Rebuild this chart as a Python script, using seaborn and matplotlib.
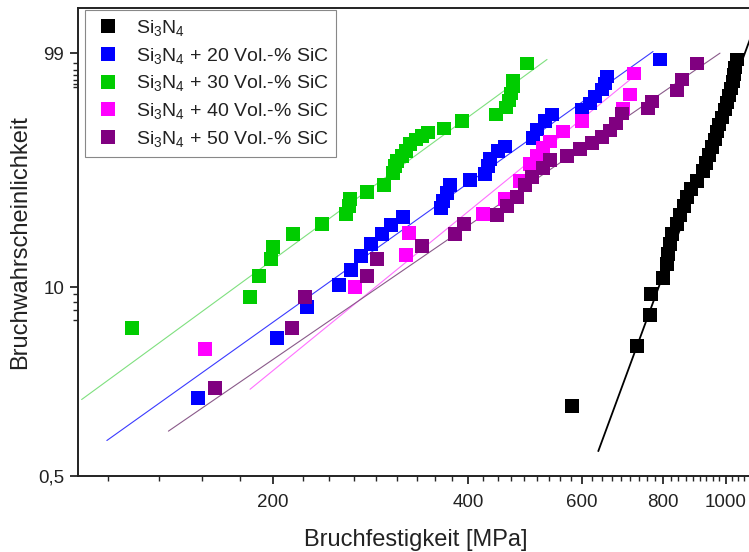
import numpy as np
import pandas as pd
import matplotlib
matplotlib.use("Agg")
import matplotlib.pyplot as plt
import seaborn as sns
from matplotlib.ticker import FixedLocator, NullFormatter

# ---------------- data ----------------
series_labels = [
    "Si$_3$N$_4$",
    "Si$_3$N$_4$ + 20 Vol.-% SiC",
    "Si$_3$N$_4$ + 30 Vol.-% SiC",
    "Si$_3$N$_4$ + 40 Vol.-% SiC",
    "Si$_3$N$_4$ + 50 Vol.-% SiC",
]
series_colors = ["#000000", "#0000ff", "#00cc00", "#ff00ff", "#800080"]
line_colors = ["#000000", "#3a3aff", "#7fe07f", "#ff70ff", "#8a5a8a"]

si3n4_strength = [578.9, 729.3, 763.9, 766.6, 800.0, 811.4, 814.3, 820.1, 826.0, 840.8,
                  849.8, 862.0, 871.2, 883.7, 902.8, 922.2, 932.1, 942.1, 952.2, 962.4,
                  969.3, 976.2, 986.7, 997.2, 1004.3, 1011.5, 1018.7, 1026.0, 1029.7,
                  1033.3, 1040.7]
si3n4_prob = [1.53, 3.99, 6.49, 8.98, 11.47, 14.16, 16.42, 19.00, 21.94, 25.25,
              28.58, 32.23, 36.23, 40.06, 44.14, 49.56, 54.09, 58.76, 63.49, 68.22,
              72.86, 76.78, 80.50, 84.43, 87.54, 90.28, 92.65, 94.61, 96.20, 97.43, 98.45]

sic20_strength = [153.2, 202.9, 225.7, 252.8, 263.8, 273.4, 283.3, 294.6, 304.2, 317.4,
                  363.3, 365.9, 371.2, 375.1, 402.8, 424.9, 429.5, 432.5, 445.0, 456.2,
                  503.9, 511.1, 525.9, 539.2, 599.9, 617.2, 628.2, 644.0, 650.9, 655.6, 791.5]
sic20_prob = [1.74, 4.52, 7.35, 10.31, 12.94, 15.95, 19.00, 21.94, 24.90, 27.81,
              31.39, 34.41, 38.11, 42.07, 44.67, 47.89, 52.37, 56.41, 61.12, 64.08,
              68.81, 74.00, 78.41, 82.02, 84.43, 87.11, 89.91, 92.33, 94.09, 95.79, 98.45]

sic30_strength = [121.2, 184.3, 190.3, 198.6, 200.0, 214.7, 238.1, 259.2, 262.0, 262.9,
                  279.3, 296.7, 306.3, 308.5, 310.7, 316.3, 320.8, 325.4, 332.4, 339.6,
                  346.9, 367.2, 391.5, 441.8, 457.8, 462.7, 466.0, 469.3, 469.3, 493.3]
sic30_prob = [5.29, 8.58, 11.82, 15.25, 18.20, 21.94, 25.25, 28.96, 32.23, 35.31,
              38.60, 42.07, 48.44, 52.37, 55.25, 58.17, 61.12, 65.27, 68.22, 69.98,
              72.29, 74.56, 78.41, 82.02, 85.36, 88.36, 90.99, 93.25, 94.87, 97.99]

sic40_strength = [157.1, 267.6, 320.8, 324.3, 421.9, 456.2, 481.2, 498.6, 511.1, 522.2,
                  535.3, 560.7, 599.9, 693.9, 711.4, 721.6]
sic40_prob = [3.80, 10.00, 16.18, 22.26, 28.96, 35.31, 44.14, 53.52, 58.17, 62.90,
              67.04, 72.86, 78.41, 84.90, 90.64, 96.40]

sic50_strength = [162.8, 214.0, 224.1, 279.3, 289.4, 339.6, 381.9, 394.3, 443.4, 459.4,
                  476.1, 489.8, 502.1, 522.2, 535.3, 568.7, 595.6, 621.6, 644.0, 662.6,
                  676.9, 691.5, 758.4, 769.3, 840.8, 855.9, 902.8]
sic50_prob = [2.04, 5.29, 8.58, 11.82, 15.25, 18.46, 21.94, 25.25, 28.58, 32.23,
              36.23, 42.07, 46.26, 51.24, 55.83, 58.17, 62.31, 65.87, 69.40, 73.43,
              77.33, 82.52, 84.90, 87.95, 92.01, 95.11, 97.99]

# Weibull fit lines: modulus m, characteristic strength sigma0 [MPa], range [MPa]
fit_m = [12.33, 3.234, 3.318, 3.70, 3.112]
fit_sigma0 = [945.3, 477.3, 344.5, 528.3, 599.2]
fit_xmin = [635.6, 110.8, 101.3, 184.3, 137.9]
fit_xmax = [1150.0, 772.1, 529.7, 737.3, 979.6]

x_major_ticks = [200, 400, 600, 800, 1000]
y_major_ticks = [0.5, 10, 99]
y_major_labels = ["0,5", "10", "99"]
y_minor_ticks = [98, 97, 96, 95, 94, 93, 9, 8, 7, 6]

# ---------------- style ----------------
sns.set_style("ticks")
plt.rcParams["font.family"] = ["Liberation Sans", "DejaVu Sans"]
plt.rcParams["mathtext.fontset"] = "custom"
plt.rcParams["mathtext.rm"] = "Liberation Sans"
plt.rcParams["mathtext.it"] = "Liberation Sans:italic"
plt.rcParams["mathtext.bf"] = "Liberation Sans:bold"


def weib_fwd(p):
    p = np.clip(np.asarray(p, dtype=float), 1e-6, 100 - 1e-6)
    return np.log(-np.log(1 - p / 100.0))


def weib_inv(w):
    w = np.asarray(w, dtype=float)
    return 100.0 * (1 - np.exp(-np.exp(w)))


frames = []
for lab, s, p in zip(series_labels,
                     [si3n4_strength, sic20_strength, sic30_strength, sic40_strength, sic50_strength],
                     [si3n4_prob, sic20_prob, sic30_prob, sic40_prob, sic50_prob]):
    frames.append(pd.DataFrame({"strength": s, "prob": p, "series": lab}))
df = pd.concat(frames, ignore_index=True)

fig = plt.figure(figsize=(7.49, 5.52), dpi=100)
ax = fig.add_axes([78 / 749, 76 / 552, 674.6 / 749, 468 / 552])
ax.set_xscale("log")
ax.set_yscale("function", functions=(weib_fwd, weib_inv))

# fit lines
for i in range(len(series_labels)):
    xs = np.geomspace(fit_xmin[i], fit_xmax[i], 60)
    w = fit_m[i] * (np.log(xs) - np.log(fit_sigma0[i]))
    ys = weib_inv(w)
    sns.lineplot(x=xs, y=ys, ax=ax, color=line_colors[i],
                 lw=1.3 if i == 0 else 0.8, estimator=None, sort=False,
                 legend=False, zorder=2)

sns.scatterplot(data=df, x="strength", y="prob", hue="series",
                hue_order=series_labels, palette=series_colors, marker="s",
                s=100, linewidth=0, ax=ax, zorder=3)

ax.set_xlim(100, 1100)
ax.set_ylim(0.5, 99.993)

ax.xaxis.set_major_locator(FixedLocator(x_major_ticks))
ax.set_xticklabels([str(v) for v in x_major_ticks])
minor_x = [200 / 9 * k for k in range(5, 50) if k % 9 != 0]
ax.xaxis.set_minor_locator(FixedLocator(minor_x))
ax.xaxis.set_minor_formatter(NullFormatter())

ax.yaxis.set_major_locator(FixedLocator(y_major_ticks))
ax.set_yticklabels(y_major_labels)
ax.yaxis.set_minor_locator(FixedLocator(y_minor_ticks))
ax.yaxis.set_minor_formatter(NullFormatter())

ax.tick_params(axis="both", which="major", direction="out", length=6, width=1.1,
               labelsize=13.5, color="black", labelcolor="#222222", pad=4)
ax.tick_params(axis="x", which="major", pad=7)
ax.tick_params(axis="both", which="minor", direction="out", length=3.5, width=1.0)
ax.tick_params(top=False, right=False, which="both")

for sp in ax.spines.values():
    sp.set_linewidth(1.4)
    sp.set_color("#222222")

ax.set_xlabel("Bruchfestigkeit [MPa]", fontsize=17, color="#222222", labelpad=13)
ax.set_ylabel("Bruchwahrscheinlichkeit", fontsize=17, color="#222222", labelpad=5)

leg = ax.legend(loc="upper left", bbox_to_anchor=(0.0104, 0.9957), borderaxespad=0,
                fontsize=14, frameon=True, fancybox=False, framealpha=1,
                edgecolor="#888888", handlelength=1.6, handletextpad=0.6,
                labelspacing=0.4, borderpad=0.4, markerscale=1.0)
leg.get_frame().set_linewidth(0.8)
for t in leg.get_texts():
    t.set_color("#222222")

fig.savefig("out.png", dpi=100)
